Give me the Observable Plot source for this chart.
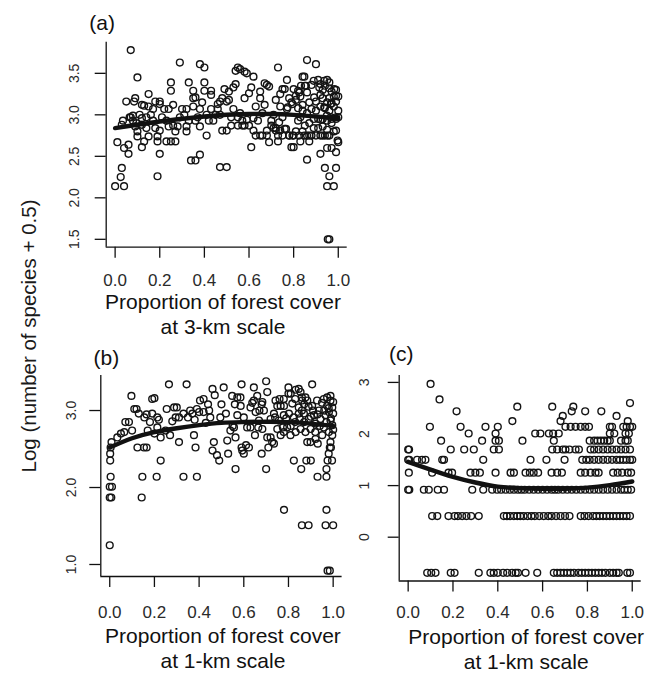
<!DOCTYPE html>
<html><head><meta charset="utf-8">
<script src="https://cdn.jsdelivr.net/npm/d3@7"></script>
<script src="https://cdn.jsdelivr.net/npm/@observablehq/plot@0.6"></script>
<style>
html,body{margin:0;padding:0;background:#fff;}
#wrap{position:relative;width:656px;height:674px;overflow:hidden;font-family:"Liberation Sans",Arial,sans-serif;}
#wrap svg{position:absolute;left:0;top:0;}
#ylab{position:absolute;left:29px;top:336px;transform:translate(-50%,-50%) rotate(-90deg);white-space:nowrap;font-size:20.5px;line-height:1;color:#1a1a1a;}
</style></head><body><div id="wrap"><div id="ylab">Log (number of species + 0.5)</div></div>
<script>
// ---------- shared ----------
const xTicks = [0, 0.2, 0.4, 0.6, 0.8, 1.0];
const xTickLabels = ["0.0", "0.2", "0.4", "0.6", "0.8", "1.0"];
const yLabel = "Log (number of species + 0.5)";

// ---------- panel (a): 3-km scale ----------
const aTag = "(a)";
const aTitle = "Proportion of forest cover\nat 3-km scale";
const aYTicks = [1.5, 2.0, 2.5, 3.0, 3.5];
const aYTickLabels = ["1.5", "2.0", "2.5", "3.0", "3.5"];
const aPoints = [
[0.0,2.14],[0.04,2.14],[0.025,2.25],[0.03,2.36],[0.01,2.67],[0.04,2.6],[0.06,2.53],[0.06,2.64],[0.035,2.93],[0.07,3.78],[0.1,3.45],[0.05,3.16],[0.085,3.16],[0.09,3.2],[0.07,2.97],[0.08,2.93],[0.09,2.86],[0.1,2.8],[0.1,2.74],[0.08,2.99],[0.065,2.97],[0.095,2.9],[0.03,2.88],
[0.12,3.12],[0.13,3.11],[0.12,2.96],[0.12,2.88],[0.12,2.61],[0.15,3.25],[0.16,3.0],[0.17,2.93],[0.14,2.84],[0.15,2.74],[0.18,2.84],[0.19,2.74],[0.19,2.26],[0.18,3.16],[0.2,3.16],[0.2,3.13],[0.19,2.68],[0.2,2.53],[0.2,2.81],[0.13,2.68],[0.15,3.1],[0.17,3.07],[0.11,3.0],[0.14,2.97],
[0.25,3.39],[0.25,3.29],[0.29,3.63],[0.23,2.93],[0.24,2.86],[0.26,2.87],[0.27,2.8],[0.27,2.68],[0.25,2.68],[0.23,2.68],[0.22,3.07],[0.24,3.07],[0.26,3.12],[0.28,2.86],[0.3,3.07],[0.32,3.07],[0.35,3.1],[0.33,3.39],[0.35,3.29],[0.35,3.2],[0.36,3.21],[0.34,2.45],[0.36,2.45],[0.38,2.52],[0.38,3.61],[0.4,3.57],[0.4,3.39],[0.4,3.29],[0.38,2.86],[0.41,2.75],[0.37,2.97],[0.36,2.93],[0.32,2.86],[0.32,2.8],[0.29,2.97],[0.31,3.0],[0.21,2.97],[0.33,2.93],[0.39,3.15],[0.38,3.07],
[0.43,3.29],[0.43,3.24],[0.46,3.07],[0.47,3.16],[0.48,3.2],[0.46,3.13],[0.5,3.16],[0.51,3.18],[0.47,2.37],[0.5,2.37],[0.48,2.81],[0.5,2.81],[0.52,2.87],[0.49,3.31],[0.51,3.28],[0.53,3.33],[0.54,3.37],[0.54,3.53],[0.55,3.57],[0.56,3.55],[0.58,3.52],[0.59,3.5],[0.58,3.2],[0.6,3.26],[0.61,3.33],[0.55,2.87],[0.57,2.87],[0.58,2.87],[0.6,2.87],[0.55,2.97],[0.57,2.93],[0.59,2.94],[0.61,2.61],[0.62,3.46],[0.42,2.93],[0.44,2.93],[0.45,3.0],[0.53,3.07],[0.56,3.02],[0.52,2.97],[0.43,3.07],[0.41,3.0],[0.47,3.0],
[0.62,2.81],[0.63,2.75],[0.65,2.75],[0.66,2.75],[0.68,2.75],[0.68,2.81],[0.64,2.93],[0.63,3.1],[0.65,3.2],[0.65,3.28],[0.67,3.38],[0.68,3.36],[0.69,3.34],[0.66,3.02],[0.69,2.67],[0.7,2.87],[0.71,2.84],[0.72,2.81],[0.73,2.68],[0.73,3.57],[0.72,3.18],[0.74,3.25],[0.75,3.31],[0.76,3.31],[0.77,3.42],[0.76,2.83],[0.75,2.97],[0.77,3.07],[0.74,3.1],[0.78,3.2],[0.79,3.15],[0.79,2.61],[0.8,2.61],[0.78,2.75],[0.8,2.75],[0.7,2.93],[0.62,2.96],[0.67,3.12],[0.71,3.0],[0.73,2.75],[0.75,2.75],
[0.86,3.66],[0.9,3.61],[0.84,3.46],[0.85,3.35],[0.82,3.29],[0.83,3.22],[0.81,3.18],[0.84,3.12],[0.86,3.27],[0.88,3.36],[0.89,3.41],[0.91,3.42],[0.92,3.37],[0.93,3.3],[0.94,3.35],[0.95,3.42],[0.96,3.32],[0.97,3.28],[0.98,3.22],[0.99,3.3],[0.93,3.2],[0.95,3.15],[0.97,3.14],[0.99,3.16],[1.0,3.22],[0.92,3.1],[0.96,3.05],[0.9,3.16],[0.88,3.07],[0.86,3.02],[0.83,2.97],[0.82,2.93],[0.85,2.87],[0.87,2.9],[0.89,2.95],[0.91,2.95],[0.93,2.95],[0.95,2.93],[0.97,2.95],[0.99,2.95],[0.84,2.8],[0.86,2.75],[0.88,2.75],[0.9,2.75],[0.92,2.75],[0.94,2.75],[0.96,2.75],[0.98,2.8],[1.0,2.67],[0.83,2.68],[0.87,2.68],[0.91,2.84],[0.93,2.86],[0.86,2.46],[0.92,2.53],[0.95,2.6],[0.97,2.6],[0.99,2.55],[0.94,2.36],[0.99,2.36],[0.96,2.26],[0.95,2.14],[0.98,2.14],[0.953,1.5],[0.96,1.5],[0.81,2.8],[0.89,2.84],[0.95,2.82],[0.97,2.9],[0.84,3.05],[0.9,3.05],[0.94,3.08],[0.98,3.1],[0.87,3.15],[0.92,3.24],[0.96,3.2],[1.0,3.05],[1.0,2.97],[0.82,3.08],
[0.892,3.21],[0.915,3.33],[0.937,3.41],[0.96,3.39],[0.982,3.31],[0.99,3.23],[0.967,3.13],[0.937,3.09],[0.922,2.94],[0.949,2.99],[0.967,2.97],[0.99,2.97],[0.93,2.75],[0.952,2.75],[0.99,2.81],[0.997,2.69],[0.8,3.31],[0.833,3.35],[0.825,3.27],[0.81,3.23],[0.795,3.13],[0.773,3.09],[0.848,3.46],[0.855,3.35],[0.78,2.75],[0.795,2.75],[0.825,2.75],[0.848,2.75],[0.87,2.75],[0.735,2.91],[0.72,2.84],[0.74,2.81],[0.766,2.83]
];
const aFitX = [0, 0.2, 0.4, 0.5, 0.6, 0.7, 0.8, 1.0];
const aFitY = [2.84, 2.92, 2.98, 3.0, 3.01, 3.01, 3.0, 2.96];

// ---------- panel (b): 1-km scale ----------
const bTag = "(b)";
const bTitle = "Proportion of forest cover\nat 1-km scale";
const bYTicks = [1.0, 2.0, 3.0];
const bYTickLabels = ["1.0", "2.0", "3.0"];
const bPoints = [
[0,1.25],[0,1.87],[0.007,1.87],[0,2.01],[0.01,2.01],[0.004,2.14],[0.002,2.35],[0.002,2.44],[0.004,2.52],[0.008,2.59],
[0.034,2.65],[0.05,2.7],[0.065,2.72],[0.07,2.85],[0.086,2.85],[0.1,2.74],[0.097,3.19],[0.11,3.02],[0.13,2.96],[0.124,2.52],[0.153,2.52],[0.165,2.52],[0.146,2.14],[0.143,1.87],[0.19,3.15],[0.18,2.85],[0.19,2.96],[0.21,2.14],[0.213,2.91],[0.213,2.78],[0.228,2.35],[0.228,2.65],[0.255,3.02],[0.265,3.34],[0.288,3.04],[0.295,2.91],[0.27,2.68],[0.31,2.59],[0.31,2.91],[0.33,2.14],[0.344,3.34],[0.33,2.96],[0.37,2.96],[0.377,2.68],[0.384,2.52],[0.39,2.14],[0.39,3.02],[0.404,3.13],[0.42,3.15],[0.44,3.08],[0.445,3.0],[0.45,2.91],[0.46,3.28],[0.466,2.59],[0.47,3.2],[0.48,2.42],[0.49,2.35],[0.495,2.91],[0.5,3.08],[0.51,3.3],[0.52,2.96],[0.526,2.61],[0.53,2.44],[0.54,2.74],[0.55,2.8],[0.56,3.08],[0.563,2.24],[0.585,3.17],[0.59,3.34],[0.6,2.91],[0.59,2.52],[0.6,2.44],[0.61,2.55],[0.63,2.78],[0.638,3.1],[0.645,3.3],[0.65,2.68],[0.665,2.78],[0.67,3.0],[0.68,3.08],[0.7,3.38],[0.7,2.24],[0.68,2.44],[0.71,2.52],[0.72,2.65],[0.735,2.57],[0.74,2.91],[0.75,3.06],[0.76,3.15],[0.775,2.78],[0.78,3.06],[0.8,3.3],[0.81,3.22],[0.83,3.15],[0.846,3.28],[0.86,3.17],[0.87,3.08],[0.78,1.71],[0.824,2.35],[0.857,2.24],[0.86,1.51],[0.89,1.51],[0.88,2.35],[0.9,2.35],[0.906,3.34],[0.93,2.14],[0.97,1.71],[0.966,1.51],[1.0,1.51],[0.975,0.92],[0.985,0.92],[0.97,2.14],[0.97,2.24],[0.975,2.35],[0.98,2.44],[0.985,2.52],[0.995,2.35],[0.99,2.52],
[0.12,3.02],[0.155,2.91],[0.17,2.74],[0.165,2.95],[0.2,3.16],[0.2,2.7],[0.22,2.88],[0.25,2.74],[0.28,2.86],[0.3,3.04],[0.35,2.91],[0.36,3.0],[0.38,2.88],[0.4,2.98],[0.42,2.98],[0.43,2.84],[0.46,2.48],
[0.548,3.19],[0.571,3.17],[0.586,3.06],[0.571,2.94],[0.556,2.78],[0.563,2.65],[0.593,2.48],[0.623,2.52],[0.615,2.78],[0.63,3.04],[0.645,3.13],[0.653,2.98],[0.668,2.87],[0.683,2.76],[0.705,2.65],[0.727,2.59],[0.742,3.13],[0.735,2.96],[0.765,3.06],[0.779,3.15],[0.8,3.22],[0.832,3.27],[0.854,3.24],[0.861,3.13],[0.884,3.13],[0.906,3.06],[0.928,3.13],[0.958,3.15],[0.973,3.06],[0.988,3.13],[0.996,3.04],[0.981,2.98],[0.966,2.94],[0.943,2.89],[0.921,2.83],[0.899,2.76],[0.876,2.72],[0.854,2.76],[0.832,2.72],[0.809,2.68],[0.794,2.78],[0.779,2.72],[0.765,2.68],[0.75,2.76],[0.779,2.94],[0.802,2.96],[0.824,2.91],[0.846,2.96],[0.869,2.96],[0.891,2.89],[0.914,2.94],[0.936,3.0],[0.958,2.78],[0.981,2.72],[0.996,2.68],[0.988,2.87],[0.996,2.81],[1.0,2.96],[1.0,3.11],[0.988,3.19],[0.973,3.17],[0.951,2.68],[0.921,2.63],[0.899,2.59],[0.884,2.59],[0.931,2.57],[0.988,2.59],[0.876,3.17],[0.846,3.04],[0.817,3.09],[0.705,3.24],[0.683,3.11],[0.66,3.19],[0.69,3.0],[0.72,2.89],[0.757,2.87],
[0.95,3.1],[0.96,3.0],[0.97,2.85],[0.99,2.9],[0.93,2.95],[0.91,3.0],[0.89,3.05],[0.87,2.85],[0.85,2.9],[0.83,2.85],[0.81,2.8],[0.79,2.9],[0.94,2.8],[0.92,2.72],[0.98,3.03],[1.0,2.75],[0.9,2.92],[0.86,3.0]
];
const bFitX = [0, 0.1, 0.2, 0.3, 0.4, 0.5, 0.6, 0.7, 0.8, 0.9, 1.0];
const bFitY = [2.52, 2.64, 2.72, 2.77, 2.81, 2.84, 2.85, 2.855, 2.85, 2.83, 2.8];

// ---------- panel (c): 1-km scale ----------
const cTag = "(c)";
const cTitle = "Proportion of forest cover\nat 1-km scale";
const cYTicks = [0, 1, 2, 3];
const cYTickLabels = ["0", "1", "2", "3"];
const cLevels = [-0.69, 0.41, 0.92, 1.25, 1.50, 1.70, 1.87, 2.01, 2.14, 2.25, 2.35, 2.44, 2.53, 2.60, 2.67, 2.97];
const cRowX = [
[0.085,0.103,0.122,0.19,0.207,0.315,0.367,0.382,0.4,0.424,0.442,0.464,0.48,0.49,0.524,0.576,0.65,0.665,0.68,0.695,0.71,0.725,0.74,0.76,0.775,0.79,0.805,0.82,0.835,0.85,0.865,0.88,0.9,0.915,0.93,0.94,0.978,0.99],
[0.107,0.13,0.18,0.207,0.222,0.241,0.26,0.281,0.315,0.427,0.44,0.455,0.472,0.487,0.5,0.515,0.533,0.55,0.565,0.585,0.605,0.625,0.64,0.66,0.68,0.7,0.72,0.77,0.787,0.805,0.825,0.84,0.855,0.87,0.885,0.9,0.915,0.93,0.945,0.96,0.975,0.99],
[0,0.005,0.07,0.092,0.132,0.16,0.286,0.335,0.375,0.397,0.415,0.435,0.454,0.472,0.49,0.505,0.52,0.54,0.56,0.58,0.6,0.62,0.64,0.655,0.67,0.69,0.71,0.73,0.75,0.77,0.79,0.81,0.83,0.85,0.87,0.89,0.91,0.93,0.95,0.965,0.98,0.995],
[0.003,0.107,0.18,0.196,0.278,0.3,0.32,0.39,0.457,0.472,0.524,0.543,0.56,0.58,0.64,0.665,0.686,0.77,0.79,0.814,0.836,0.85,0.915,0.935,0.955,0.98,0.995],
[0,0.005,0.04,0.062,0.077,0.152,0.16,0.335,0.546,0.617,0.698,0.777,0.795,0.81,0.83,0.85,0.87,0.89,0.91,0.93,0.945,0.96,0.975,0.99,1.0],
[0,0.004,0.19,0.25,0.293,0.382,0.405,0.643,0.665,0.69,0.702,0.72,0.747,0.762,0.814,0.83,0.85,0.87,0.89,0.91,0.93,0.95,0.97,0.99],
[0.147,0.33,0.39,0.405,0.51,0.65,0.81,0.83,0.845,0.86,0.875,0.89,0.9,0.95,0.97,0.98],
[0.27,0.39,0.567,0.59,0.628,0.647,0.672,0.9,0.92,0.97,0.985],
[0.097,0.234,0.345,0.4,0.702,0.725,0.747,0.77,0.79,0.807,0.9,0.91,0.96,0.975,0.99,1.0],
[0.465,0.68,0.98],
[0.69,0.93],
[0.216,0.73,0.79,0.862],
[0.487,0.643,0.737],
[0.99],
[0.14],
[0.1]
];
const cFitX = [0, 0.1, 0.2, 0.3, 0.4, 0.5, 0.6, 0.7, 0.8, 0.9, 1.0];
const cFitY = [1.46, 1.31, 1.17, 1.06, 0.98, 0.95, 0.94, 0.94, 0.96, 1.01, 1.08];

// ---------- build ----------
const toXY = arr => arr.map(([x, y]) => ({x, y}));
const zipFit = (xs, ys) => xs.map((x, i) => ({x, y: ys[i]}));
const cPoints = cLevels.flatMap((y, i) => cRowX[i].map(x => ({x, y})));

const W = 656, H = 674;
const FONT = "Liberation Sans, Arial, Helvetica, sans-serif";

function panel(o) {
  const f = o.frame;
  return Plot.plot({
    width: W, height: H,
    marginLeft: f.left, marginRight: W - f.right, marginTop: f.top, marginBottom: H - f.bottom,
    x: {domain: o.xDomain},
    y: {domain: o.yDomain},
    style: {background: "transparent", fontFamily: FONT, fontSize: "17px", overflow: "visible", color: "#222"},
    marks: [
      Plot.ruleX([o.xDomain[0]], {stroke: "#111", strokeWidth: 1.3}),
      Plot.ruleY([o.yDomain[0]], {stroke: "#111", strokeWidth: 1.3}),
      Plot.axisX({ticks: xTicks, tickFormat: d => xTickLabels[xTicks.indexOf(d)], tickSize: 11, tickPadding: o.xPad,
                  fontSize: 17, label: null, stroke: "#111", fill: "#2a2a2a", strokeWidth: 1.3}),
      Plot.axisY({ticks: o.yTicks, tickFormat: d => o.yTickLabels[o.yTicks.indexOf(d)], tickSize: 11,
                  tickPadding: o.yPad, tickRotate: -90, fontSize: 14, label: null,
                  stroke: "#111", fill: "#2a2a2a", strokeWidth: 1.3}),
      Plot.dot(o.points, {x: "x", y: "y", r: 3.4, stroke: "#141414", strokeWidth: 1.4, fill: "none"}),
      Plot.line(o.fit, {x: "x", y: "y", curve: "natural", stroke: "#111", strokeWidth: 4.4}),
      Plot.text([o.tag], {frameAnchor: "top-left", dx: o.tagDx, dy: o.tagDy, text: d => d,
                          fontSize: 21, textAnchor: "middle", lineAnchor: "middle", fill: "#111"}),
      Plot.text([o.title], {frameAnchor: "bottom", dx: o.titleDx, dy: o.titleDy, text: d => d, lineAnchor: "top",
                            fontSize: 21, lineHeight: 1.17, textAnchor: "middle", fill: "#111"})
    ]
  });
}

const wrap = document.getElementById("wrap");
wrap.appendChild(panel({
  points: toXY(aPoints), fit: zipFit(aFitX, aFitY),
  xDomain: [-0.04, 1.04], yDomain: [1.405, 3.875],
  yTicks: aYTicks, yTickLabels: aYTickLabels,
  frame: {left: 105.7, right: 346.7, top: 41.7, bottom: 246.7},
  xPad: 15.6, yPad: 16.4, tag: aTag, tagDx: -4, tagDy: -19, title: aTitle, titleDx: -3.7, titleDy: 44.5
}));
wrap.appendChild(panel({
  points: toXY(bPoints), fit: zipFit(bFitX, bFitY),
  xDomain: [-0.04, 1.04], yDomain: [0.844, 3.455],
  yTicks: bYTicks, yTickLabels: bYTickLabels,
  frame: {left: 100.3, right: 341.6, top: 375, bottom: 576},
  xPad: 18, yPad: 14.3, tag: bTag, tagDx: 5.5, tagDy: -17.5, title: bTitle, titleDx: 1.5, titleDy: 49.5
}));
wrap.appendChild(panel({
  points: cPoints, fit: zipFit(cFitX, cFitY),
  xDomain: [-0.04, 1.04], yDomain: [-0.849, 3.134],
  yTicks: cYTicks, yTickLabels: cYTickLabels,
  frame: {left: 398.7, right: 640.7, top: 375, bottom: 580.5},
  xPad: 13.5, yPad: 19.4, tag: cTag, tagDx: 2, tagDy: -21.7, title: cTitle, titleDx: 6, titleDy: 46
}));
</script></body></html>
